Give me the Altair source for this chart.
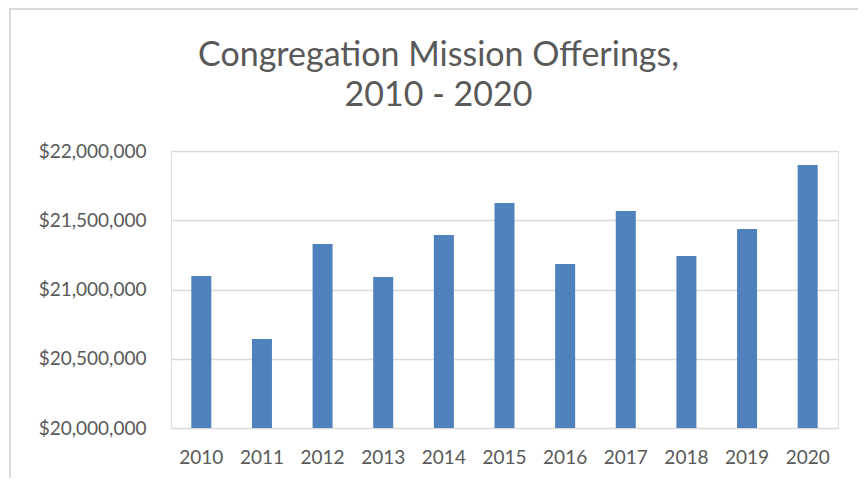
import altair as alt
import pandas as pd

years = ["2010", "2011", "2012", "2013", "2014", "2015", "2016", "2017", "2018", "2019", "2020"]
offerings = [21097000, 20643000, 21329000, 21090000, 21394000, 21625000,
             21184000, 21567000, 21242000, 21437000, 21899000]
y_ticks = [20000000, 20500000, 21000000, 21500000, 22000000]

df = pd.DataFrame({"year": years, "offerings": offerings})

FONT = "Lato"
TXT = "#595959"
GRID = "#D9D9D9"

bars = alt.Chart(df).mark_bar(color="#4F81BD", clip=True).encode(
    x=alt.X("year:N", title=None, sort=years,
            scale=alt.Scale(paddingInner=0.67, paddingOuter=0.335),
            axis=alt.Axis(labelAngle=0, labelFont=FONT, labelFontSize=19, labelColor=TXT,
                          labelPadding=20, ticks=False, domain=False)),
    y=alt.Y("offerings:Q", title=None,
            scale=alt.Scale(domain=[20000000, 22000000], nice=False, zero=False),
            axis=alt.Axis(values=y_ticks, format="$,.0f", labelFont=FONT, labelFontSize=19,
                          labelColor=TXT, labelPadding=25, ticks=False, domain=False,
                          grid=True, gridColor=GRID, gridWidth=1.5)),
)

frame = alt.Chart(pd.DataFrame({"k": [0]})).mark_rect(
    fill="transparent", stroke=GRID, strokeWidth=2, clip=False).encode(
    x=alt.value(-161), x2=alt.value(702), y=alt.value(-142), y2=alt.value(345))

chart = alt.layer(frame, bars).properties(
    width=667, height=277,
    autosize=alt.AutoSizeParams(type="none"),
    padding={"left": 163, "top": 143, "right": 20, "bottom": 50},
    title=alt.TitleParams(["Congregation Mission Offerings,", "2010 - 2020"],
                          font=FONT, fontSize=34, fontWeight="normal", color=TXT,
                          anchor="middle", dx=-66, offset=-105, lineHeight=40),
).configure_view(stroke=None).configure(background="white")

chart.save("out.html", embed_options={"renderer": "svg", "actions": False})
